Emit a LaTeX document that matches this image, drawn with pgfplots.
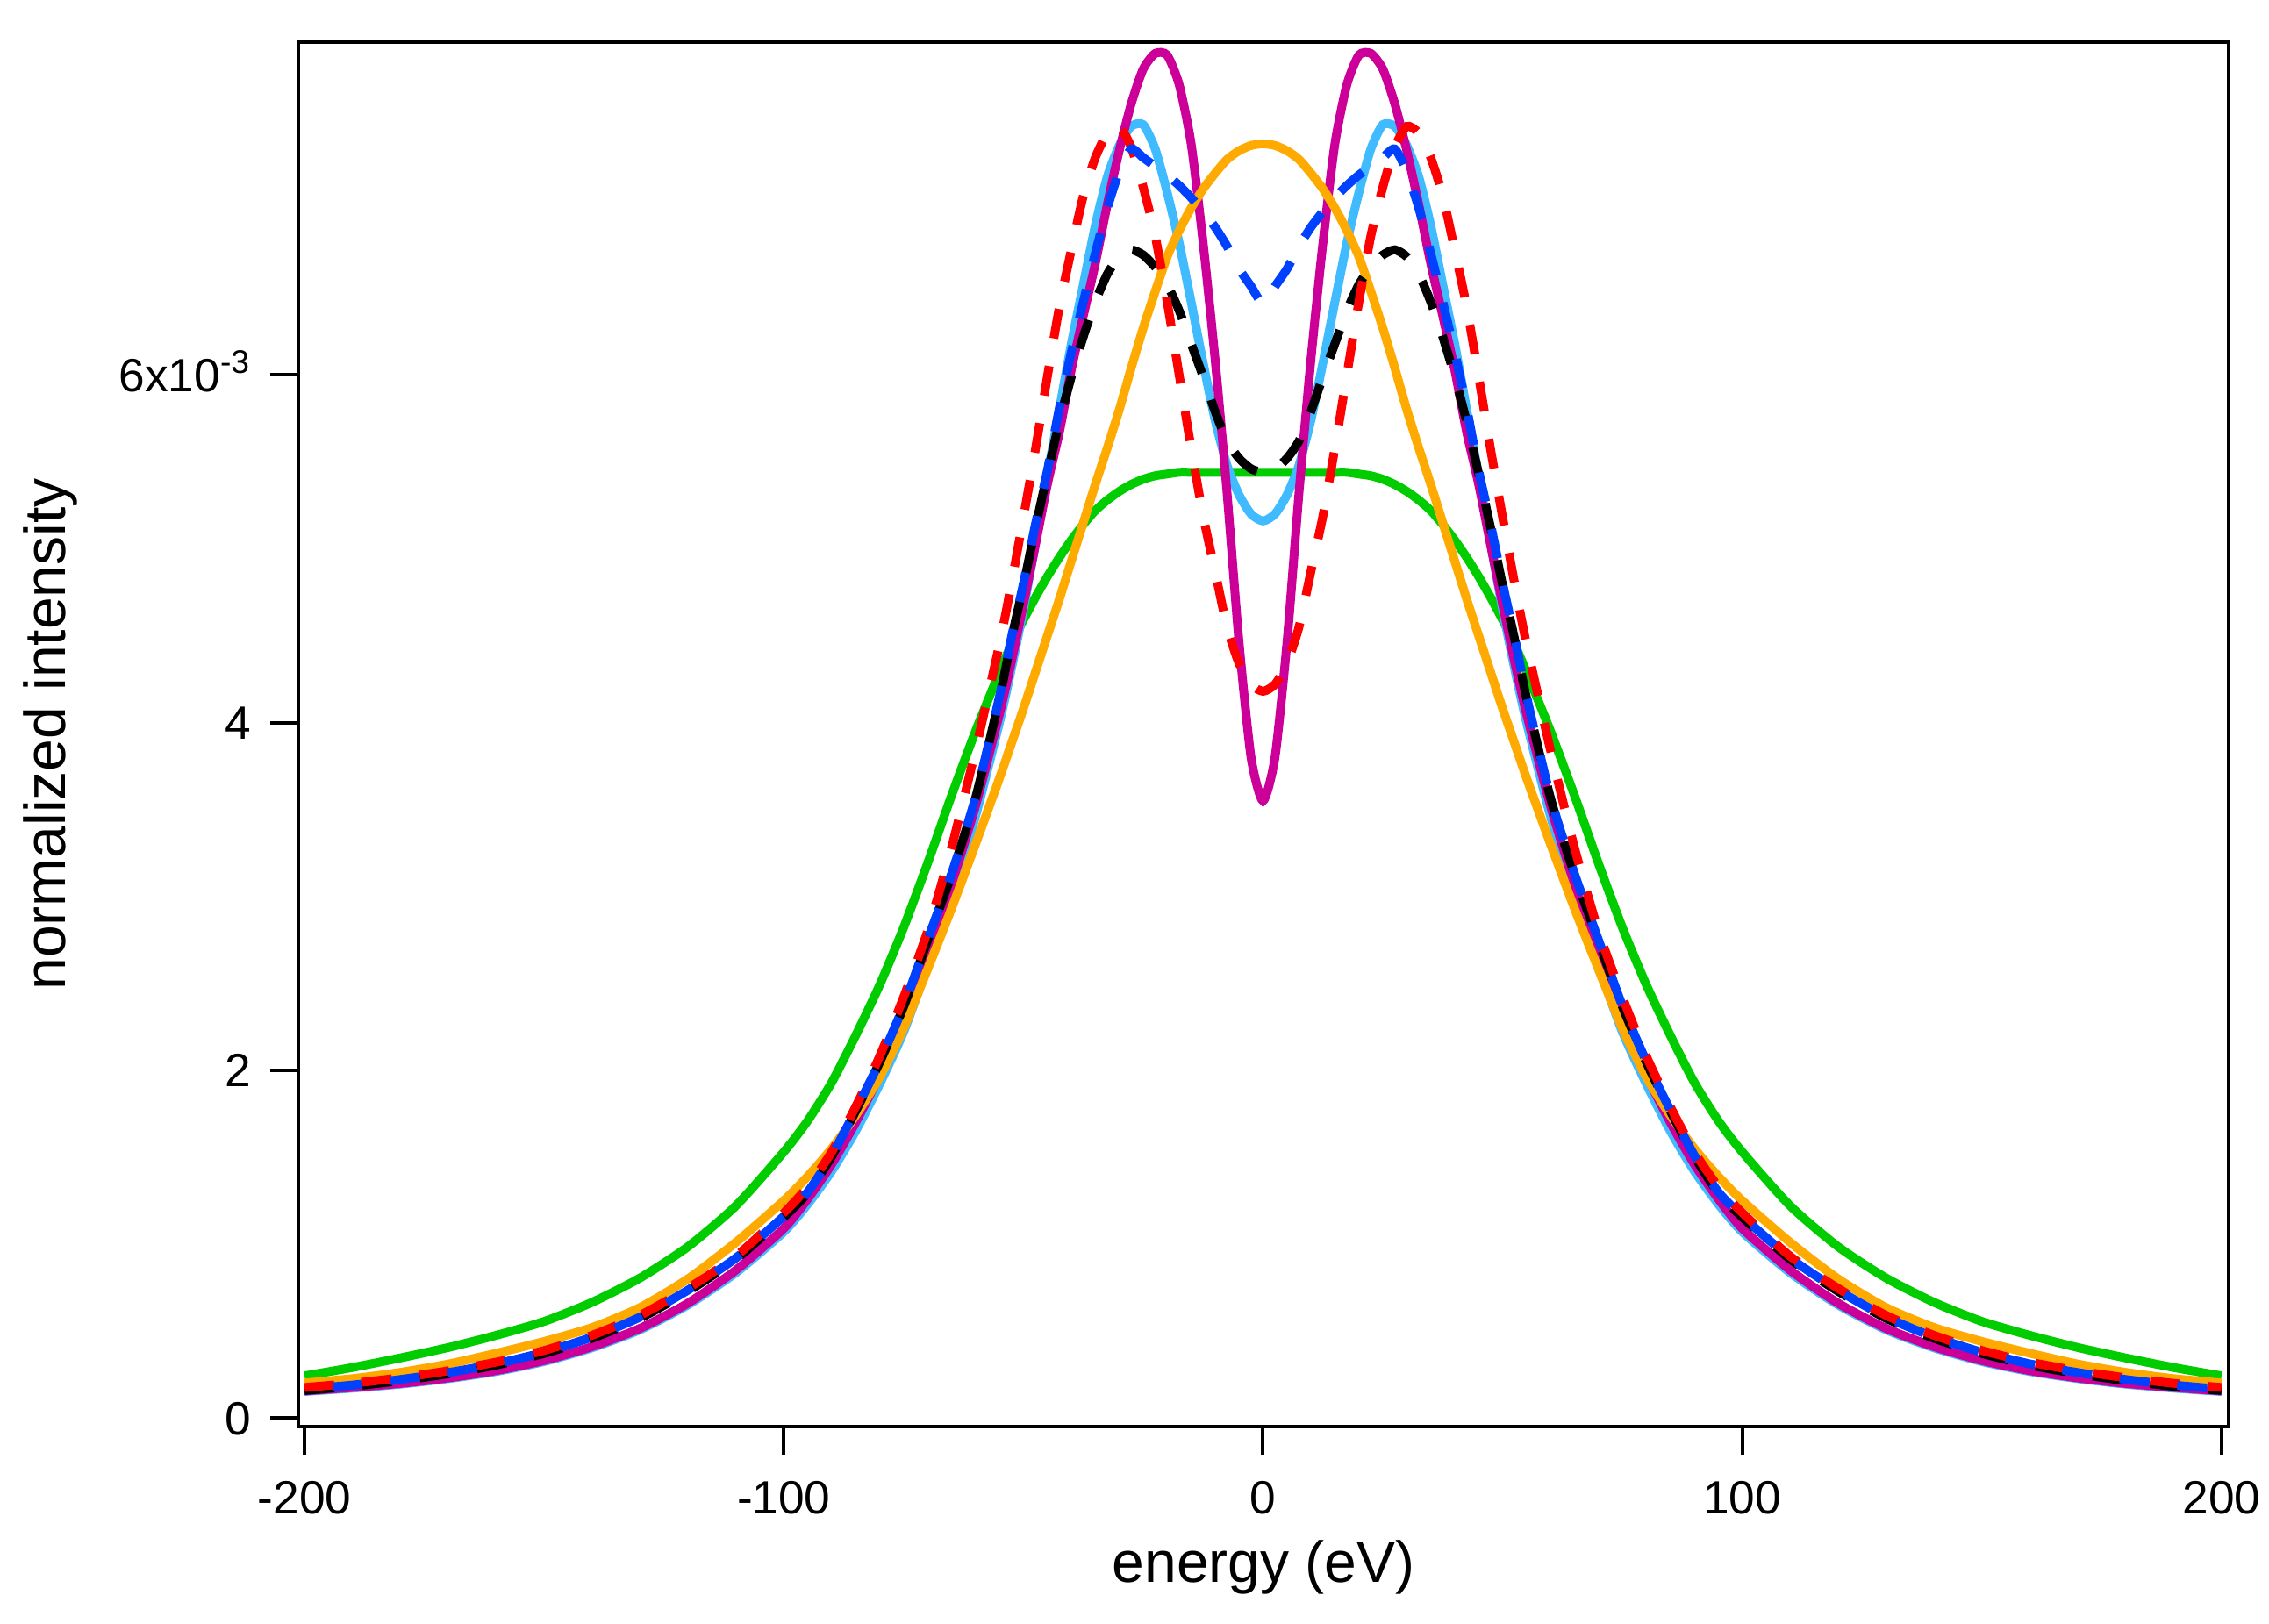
\documentclass[border=0pt]{standalone}
\usepackage{fontspec}
\setmainfont{Liberation Sans}
\usepackage{pgfplots}
\usepackage{pgfplotstable}
\pgfplotsset{compat=1.18}
\definecolor{cmag}{RGB}{204,0,153}
\definecolor{clb}{RGB}{64,187,255}
\definecolor{cora}{RGB}{255,170,0}
\definecolor{cgrn}{RGB}{0,204,0}
\definecolor{cred}{RGB}{255,0,0}
\definecolor{cblu}{RGB}{0,64,255}

\pgfplotstableread{
x M L R B K O G
-200 0.155 0.152 0.175 0.165 0.158 0.201 0.242
-190 0.175 0.171 0.199 0.189 0.182 0.226 0.290
-180 0.198 0.194 0.231 0.221 0.214 0.262 0.345
-170 0.230 0.226 0.271 0.261 0.254 0.310 0.405
-160 0.272 0.267 0.321 0.311 0.304 0.372 0.475
-150 0.330 0.324 0.388 0.378 0.371 0.440 0.555
-140 0.410 0.403 0.475 0.465 0.458 0.520 0.665
-130 0.515 0.507 0.590 0.580 0.573 0.635 0.805
-120 0.660 0.650 0.745 0.735 0.728 0.800 0.985
-110 0.850 0.835 0.930 0.920 0.913 1.01 1.22
-100 1.09 1.07 1.18 1.16 1.155 1.25 1.53
-95 1.26 1.23 1.33 1.30 1.295 1.39 1.71
-90 1.46 1.42 1.53 1.51 1.505 1.55 1.93
-85 1.70 1.65 1.79 1.77 1.765 1.74 2.20
-80 1.97 1.92 2.08 2.05 2.045 1.96 2.49
-75 2.27 2.22 2.42 2.37 2.365 2.24 2.82
-70 2.67 2.60 2.80 2.75 2.745 2.58 3.19
-65 3.07 3.00 3.28 3.13 3.125 2.93 3.58
-60 3.52 3.46 3.84 3.57 3.565 3.30 3.95
-55 4.05 4.00 4.45 4.15 4.14 3.68 4.29
-52.5 4.35 4.31 4.80 4.49 4.48 3.88 4.45
-50 4.68 4.65 5.18 4.80 4.79 4.08 4.59
-47.5 5.02 5.03 5.57 5.14 5.12 4.29 4.72
-45 5.37 5.42 5.99 5.45 5.43 4.50 4.84
-42.5 5.67 5.80 6.39 5.81 5.73 4.71 4.95
-40 6.03 6.18 6.72 6.13 5.99 4.93 5.05
-37.5 6.34 6.52 7.03 6.42 6.22 5.15 5.14
-35 6.64 6.86 7.25 6.70 6.42 5.37 5.22
-32.5 6.98 7.14 7.39 6.96 6.58 5.58 5.28
-30 7.29 7.32 7.43 7.17 6.68 5.80 5.33
-27.5 7.56 7.43 7.31 7.30 6.72 6.04 5.37
-25 7.76 7.44 7.08 7.25 6.69 6.27 5.40
-22.5 7.85 7.30 6.80 7.20 6.62 6.48 5.42
-20 7.84 7.05 6.42 7.15 6.52 6.68 5.43
-17.5 7.67 6.76 6.00 7.09 6.37 6.83 5.44
-15 7.33 6.42 5.58 7.02 6.18 6.96 5.44
-12.5 6.76 6.07 5.19 6.94 5.99 7.07 5.44
-10 6.09 5.74 4.87 6.85 5.79 7.16 5.44
-7.5 5.32 5.48 4.55 6.74 5.62 7.24 5.44
-5 4.46 5.31 4.34 6.61 5.52 7.29 5.44
-2.5 3.80 5.20 4.22 6.51 5.46 7.32 5.44
0 3.55 5.16 4.18 6.41 5.44 7.33 5.44
2.5 3.80 5.20 4.22 6.51 5.46 7.32 5.44
5 4.46 5.31 4.34 6.61 5.52 7.29 5.44
7.5 5.32 5.48 4.55 6.74 5.62 7.24 5.44
10 6.09 5.74 4.87 6.85 5.79 7.16 5.44
12.5 6.76 6.07 5.19 6.94 5.99 7.07 5.44
15 7.33 6.42 5.58 7.02 6.18 6.96 5.44
17.5 7.67 6.76 6.00 7.09 6.37 6.83 5.44
20 7.84 7.05 6.42 7.15 6.52 6.68 5.43
22.5 7.85 7.30 6.80 7.20 6.62 6.48 5.42
25 7.76 7.44 7.08 7.25 6.69 6.27 5.40
27.5 7.56 7.43 7.31 7.30 6.72 6.04 5.37
30 7.29 7.32 7.43 7.17 6.68 5.80 5.33
32.5 6.98 7.14 7.39 6.96 6.58 5.58 5.28
35 6.64 6.86 7.25 6.70 6.42 5.37 5.22
37.5 6.34 6.52 7.03 6.42 6.22 5.15 5.14
40 6.03 6.18 6.72 6.13 5.99 4.93 5.05
42.5 5.67 5.80 6.39 5.81 5.73 4.71 4.95
45 5.37 5.42 5.99 5.45 5.43 4.50 4.84
47.5 5.02 5.03 5.57 5.14 5.12 4.29 4.72
50 4.68 4.65 5.18 4.80 4.79 4.08 4.59
52.5 4.35 4.31 4.80 4.49 4.48 3.88 4.45
55 4.05 4.00 4.45 4.15 4.14 3.68 4.29
60 3.52 3.46 3.84 3.57 3.565 3.30 3.95
65 3.07 3.00 3.28 3.13 3.125 2.93 3.58
70 2.67 2.60 2.80 2.75 2.745 2.58 3.19
75 2.27 2.22 2.42 2.37 2.365 2.24 2.82
80 1.97 1.92 2.08 2.05 2.045 1.96 2.49
85 1.70 1.65 1.79 1.77 1.765 1.74 2.20
90 1.46 1.42 1.53 1.51 1.505 1.55 1.93
95 1.26 1.23 1.33 1.30 1.295 1.39 1.71
100 1.09 1.07 1.18 1.16 1.155 1.25 1.53
110 0.850 0.835 0.930 0.920 0.913 1.01 1.22
120 0.660 0.650 0.745 0.735 0.728 0.800 0.985
130 0.515 0.507 0.590 0.580 0.573 0.635 0.805
140 0.410 0.403 0.475 0.465 0.458 0.520 0.665
150 0.330 0.324 0.388 0.378 0.371 0.440 0.555
160 0.272 0.267 0.321 0.311 0.304 0.372 0.475
170 0.230 0.226 0.271 0.261 0.254 0.310 0.405
180 0.198 0.194 0.231 0.221 0.214 0.262 0.345
190 0.175 0.171 0.199 0.189 0.182 0.226 0.290
200 0.155 0.152 0.175 0.165 0.158 0.201 0.242
}\data

\begin{document}
\begin{tikzpicture}
\useasboundingbox (-85pt,-56pt) rectangle (561.5pt,406.5pt);
\begin{axis}[
  at={(0,0)}, anchor=south west,
  scale only axis, width=550pt, height=394.5pt,
  xmin=-201.3, xmax=201.5, ymin=-0.05, ymax=7.915,
  axis line style={line width=1.1pt},
  xtick={-200,-100,0,100,200}, xticklabels={-200,-100,0,100,200},
  ytick={0,2,4,6}, yticklabels={0,2,4,{6x10\textsuperscript{-3}}},
  xtick pos=bottom, ytick pos=left,
  tick align=outside, major tick length=8pt,
  every tick/.style={black, line width=1pt},
  tick label style={font=\fontsize{13.3}{16}\selectfont},
  xticklabel style={anchor=base, inner sep=0pt, yshift=-16.75pt},
  yticklabel style={anchor=base east, inner sep=0pt, xshift=-5.25pt, yshift=-4.75pt},
  label style={font=\fontsize{16.5}{20}\selectfont},
  xlabel={energy (eV)},
  xlabel style={at={(axis description cs:0.5,-0.1122)}, anchor=base},
  ylabel={normalized intensity},
  ylabel style={at={(axis description cs:-0.1205,0.5)}, anchor=base, rotate=0},
  every axis plot/.append style={line width=2.5pt, no markers, smooth, tension=0.4},
]
\addplot[cgrn] table[x=x,y=G]{\data};
\addplot[clb] table[x=x,y=L]{\data};
\addplot[cmag] table[x=x,y=M]{\data};
\addplot[cora] table[x=x,y=O]{\data};
\addplot[black, dash pattern=on 8.5pt off 8pt] table[x=x,y=K]{\data};
\addplot[cred, dash pattern=on 8.5pt off 8pt] table[x=x,y=R]{\data};
\addplot[cblu, dash pattern=on 8.5pt off 8pt, dash phase=8.5pt] table[x=x,y=B]{\data};
\end{axis}
\end{tikzpicture}
\end{document}
